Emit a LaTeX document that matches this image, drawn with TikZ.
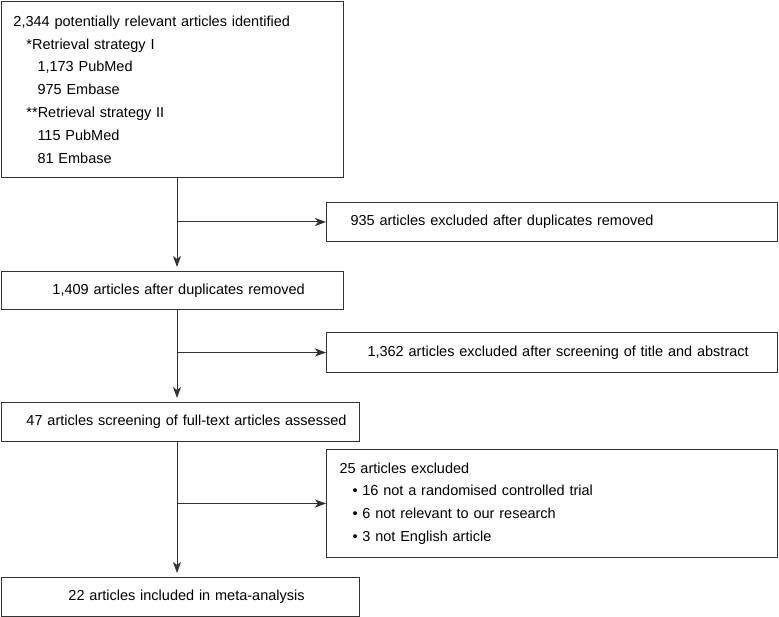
\documentclass[tikz,border=0pt]{standalone}
\usepackage{fontspec}
\setmainfont{Liberation Sans}
\usetikzlibrary{arrows.meta,calc}

\begin{document}
\begin{tikzpicture}[x=1pt, y=-1pt, font=\fontsize{14.5}{22.8}\selectfont,
box/.style={draw=black!80, line width=1pt, anchor=north west, align=left, inner xsep=0pt, inner ysep=0pt},
arr/.style={draw=black!80, line width=1pt, -{Stealth[length=11pt,width=8pt,inset=3pt]}}]
\useasboundingbox (0,0) rectangle (779,617);
\node[box, text width=342pt, minimum height=176pt] (1) at (1,1) {\hspace*{12pt}2,344 potentially relevant articles identified\\
\hspace*{25pt}*Retrieval strategy I\\
\hspace*{36pt}1,173 PubMed\\
\hspace*{36pt}975 Embase\\
\hspace*{25pt}**Retrieval strategy II\\
\hspace*{36pt}115 PubMed\\
\hspace*{36pt}81 Embase};
\node[box, text width=451pt, minimum height=39pt] (2) at (326,202) {\hspace*{24pt}935 articles excluded after duplicates removed};
\node[box, text width=342pt, minimum height=38pt] (3) at (1,271) {\hspace*{51pt}1,409 articles after duplicates removed};
\node[box, text width=451pt, minimum height=40pt] (4) at (326,332) {\hspace*{41pt}1,362 articles excluded after screening of title and abstract};
\node[box, text width=358pt, minimum height=39pt] (5) at (1,402) {\hspace*{25pt}47 articles screening of full-text articles assessed};
\node[box, text width=451pt, minimum height=108pt] (6) at (326,449) {\hspace*{13pt}25 articles excluded\\
\hspace*{26pt}• 16 not a randomised controlled trial\\
\hspace*{26pt}• 6 not relevant to our research\\
\hspace*{26pt}• 3 not English article};
\node[box, text width=358pt, minimum height=39pt] (7) at (1,577) {\hspace*{67pt}22 articles included in meta-analysis};
\coordinate (t) at (177,0);
% main flow
\draw[arr, shorten >=4pt] (1.south -| t) -- (3.north -| t);
\draw[arr, shorten >=4pt] (3.south -| t) -- (5.north -| t);
\draw[arr, shorten >=4pt] (5.south -| t) -- (7.north -| t);
% exclusions
\draw[arr] (2.west -| t) -- (2.west);
\draw[arr] (4.west -| t) -- (4.west);
\draw[arr] (6.west -| t) -- (6.west);
\end{tikzpicture}
\end{document}
